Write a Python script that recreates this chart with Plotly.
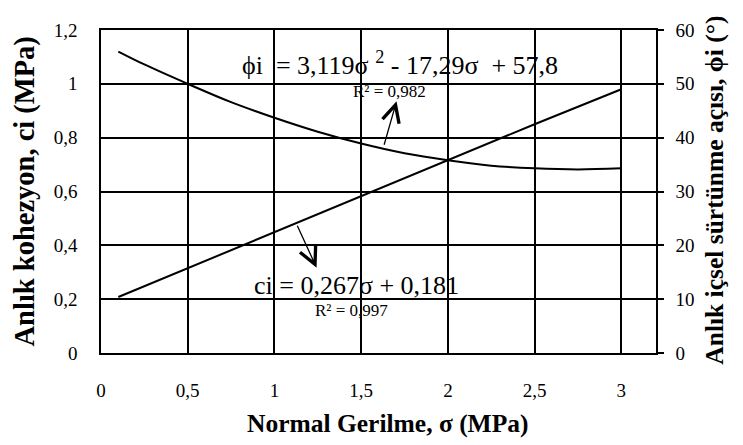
import plotly.graph_objects as go

# Data
sigma_c = [0.1, 0.5, 1.0, 1.5, 2.0, 2.5, 3.0]
cohesion = [0.208, 0.315, 0.448, 0.582, 0.716, 0.850, 0.980]

sigma_phi = [0.1, 0.25, 0.5, 0.75, 1.0, 1.25, 1.5, 1.75, 2.0, 2.25, 2.5, 2.75, 3.0]
phi = [56.0, 53.6, 50.0, 46.6, 43.7, 41.1, 38.9, 37.1, 35.8, 34.8, 34.3, 34.1, 34.3]

x_ticks = [0, 0.5, 1, 1.5, 2, 2.5, 3]
x_ticklabels = ["0", "0,5", "1", "1,5", "2", "2,5", "3"]
yl_ticks = [0, 0.2, 0.4, 0.6, 0.8, 1.0, 1.2]
yl_ticklabels = ["0", "0,2", "0,4", "0,6", "0,8", "1", "1,2"]
yr_ticks = [0, 10, 20, 30, 40, 50, 60]
yr_ticklabels = ["0", "10", "20", "30", "40", "50", "60"]

FONT = "Liberation Serif"

fig = go.Figure()
fig.add_trace(go.Scatter(x=sigma_c, y=cohesion, mode="lines",
                         line=dict(color="black", width=2), yaxis="y", showlegend=False))
fig.add_trace(go.Scatter(x=sigma_phi, y=phi, mode="lines", line_shape="spline",
                         line=dict(color="black", width=2), yaxis="y2", showlegend=False))

# the page body adds an 8px offset; margins compensate so the plot area lands at
# screen x 101..656, y 20..353
fig.update_layout(
    width=743, height=445,
    margin=dict(l=93, r=95, t=12, b=100),
    paper_bgcolor="white", plot_bgcolor="white",
    font=dict(family=FONT, color="black", size=19),
    xaxis=dict(range=[0, 3.2], tickvals=x_ticks, ticktext=x_ticklabels,
               showgrid=True, gridcolor="black", gridwidth=1.6,
               showline=True, linecolor="black", linewidth=1.6, mirror=True,
               ticks="outside", ticklen=19, tickcolor="rgba(0,0,0,0)",
               zeroline=False, tickfont=dict(size=19, family=FONT)),
    yaxis=dict(range=[0, 1.2], tickvals=yl_ticks, ticktext=yl_ticklabels,
               showgrid=True, gridcolor="black", gridwidth=1.6,
               showline=True, linecolor="black", linewidth=1.6,
               ticks="outside", ticklen=18, tickcolor="rgba(0,0,0,0)",
               zeroline=False, tickfont=dict(size=19, family=FONT)),
    yaxis2=dict(range=[0, 60], tickvals=yr_ticks, ticktext=yr_ticklabels,
                overlaying="y", side="right", showgrid=False,
                showline=True, linecolor="black", linewidth=1.6,
                ticks="outside", ticklen=6, tickcolor="black", tickwidth=1.6,
                ticklabelstandoff=8,
                zeroline=False, tickfont=dict(size=19, family=FONT)),
)

annotations = [
    # axis titles
    dict(text="<b>Normal Gerilme, σ (MPa)</b>", xref="paper", yref="paper",
         x=0.517, y=-0.217, showarrow=False, font=dict(size=25.5, family=FONT),
         xanchor="center", yanchor="middle"),
    dict(text="<b>Anlık kohezyon, ci (MPa)</b>", xref="paper", yref="paper",
         x=-0.137, y=0.5, textangle=-90, showarrow=False,
         font=dict(size=28.5, family=FONT), xanchor="center", yanchor="middle"),
    dict(text="<b>Anlık içsel sürtünme açısı, ϕi (°)</b>", xref="paper", yref="paper",
         x=1.106, y=0.505, textangle=-90, showarrow=False,
         font=dict(size=25.5, family=FONT), xanchor="center", yanchor="middle"),
    # equations
    dict(text="ϕi  = 3,119σ <sup>2</sup> - 17,29σ  + 57,8", xref="x", yref="y",
         x=0.81, y=1.075, showarrow=False, font=dict(size=26, family=FONT),
         xanchor="left", yanchor="middle", borderpad=0),
    dict(text="R² = 0,982", xref="x", yref="y", x=1.448, y=0.972, showarrow=False,
         font=dict(size=17, family=FONT), xanchor="left", yanchor="middle", borderpad=0),
    dict(text="ci = 0,267σ + 0,181", xref="x", yref="y", x=0.868, y=0.251,
         showarrow=False, font=dict(size=26, family=FONT),
         xanchor="left", yanchor="middle"),
    dict(text="R² = 0,997", xref="x", yref="y", x=1.224, y=0.158, showarrow=False,
         font=dict(size=17, family=FONT), xanchor="left", yanchor="middle"),
    # arrows
    dict(x=1.704, y=0.935, xref="x", yref="y", ax=1.63, ay=0.768, axref="x", ayref="y",
         showarrow=True, arrowhead=5, arrowsize=2.6, arrowwidth=1.3, arrowcolor="black",
         text=""),
    dict(x=1.243, y=0.317, xref="x", yref="y", ax=1.128, ay=0.478, axref="x", ayref="y",
         showarrow=True, arrowhead=5, arrowsize=2.6, arrowwidth=1.3, arrowcolor="black",
         text=""),
]
fig.update_layout(annotations=annotations)

fig.write_html("out.html")
